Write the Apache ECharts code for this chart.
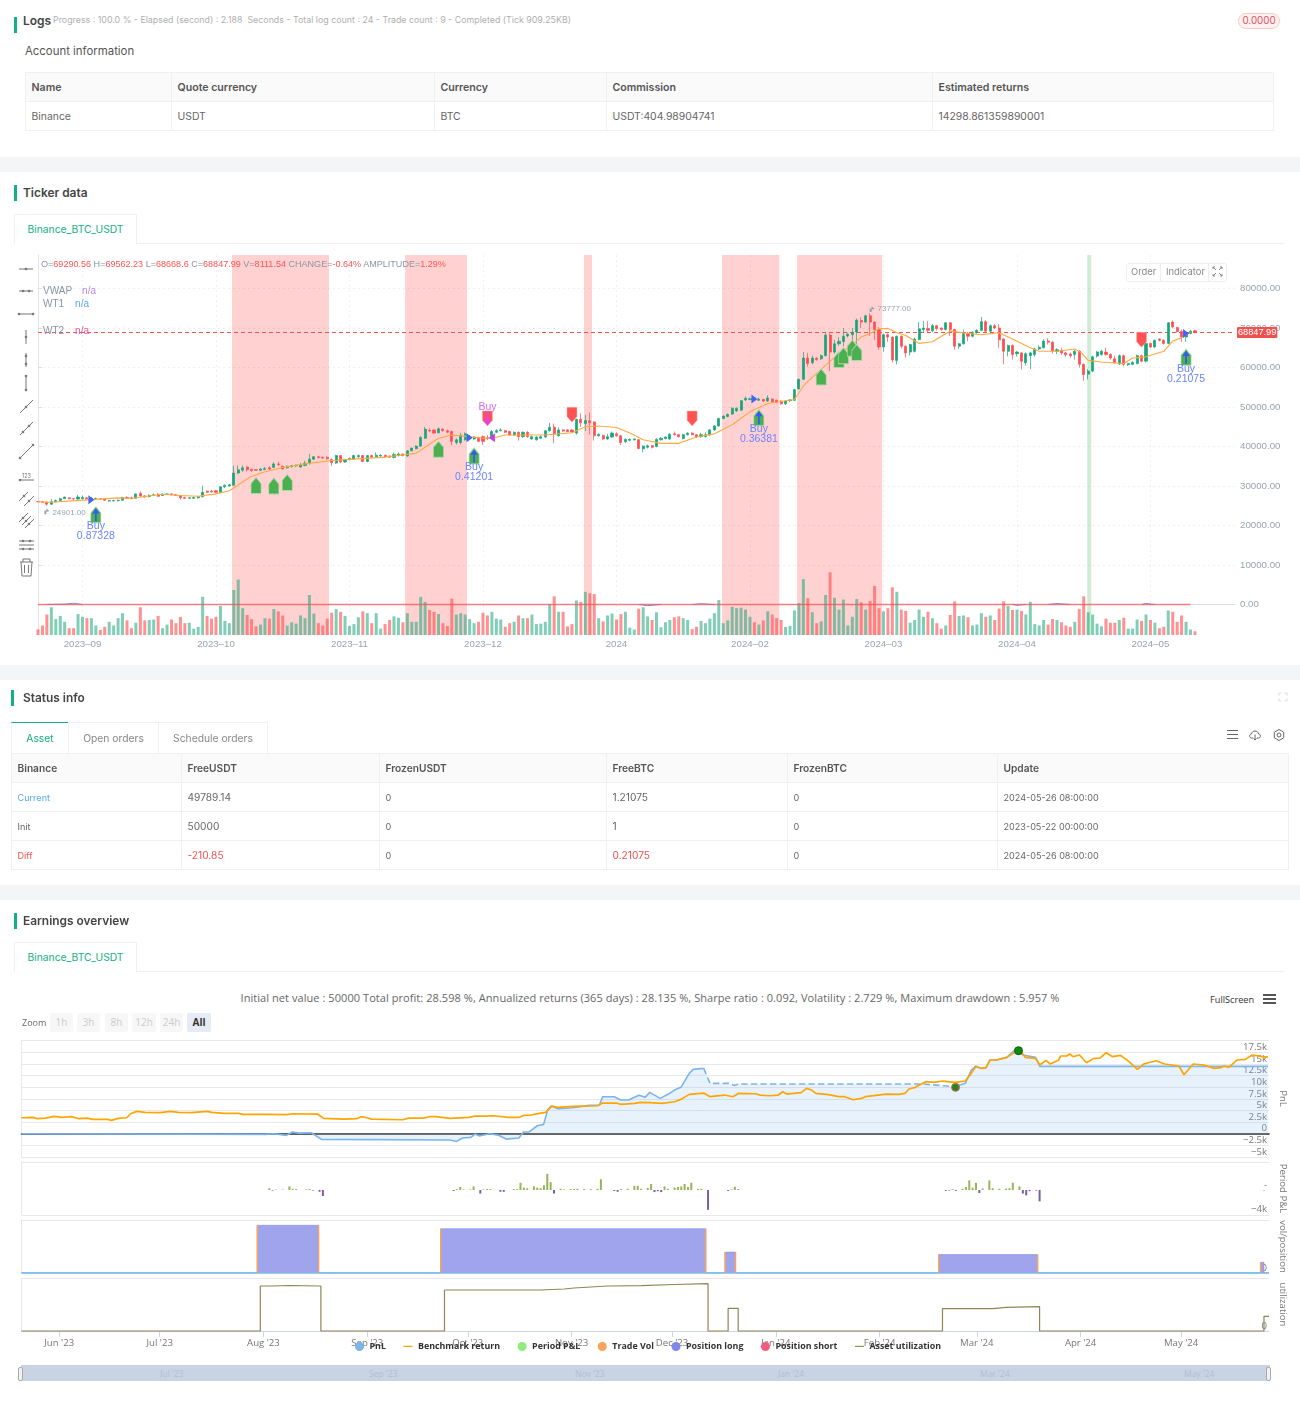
<!DOCTYPE html>
<html>
<head>
<meta charset="utf-8">
<title>Backtest report</title>
<script src="https://cdn.jsdelivr.net/npm/echarts@6/dist/echarts.min.js"></script>
<style>
html,body{margin:0;padding:0;background:#fff}
#page{position:relative;width:1300px;height:1403px;overflow:hidden;font-family:Inter,"Noto Sans",sans-serif;color:#555}
.t{position:absolute;white-space:nowrap;line-height:14px}
.strip{position:absolute;left:0;width:1300px;height:15px;background:#f4f5f7}
.mark{position:absolute;left:14px;width:3px;height:16px;background:#14b184}
.head{font-size:11.9px;font-weight:600;color:#444}
.tab{position:absolute;box-sizing:border-box;height:30px;border:1px solid #f0f0f0;border-bottom:0;background:#fff;font-size:10.3px;line-height:29px;text-align:center;color:#14b184}
.rule{position:absolute;height:1px;background:#f0f0f0}
table{position:absolute;border-collapse:collapse;table-layout:fixed;font-size:10.4px;color:#666}
td,th{border:1px solid #f0f0f0;padding:0 0 0 5.5px;height:28px;text-align:left;font-weight:400;overflow:hidden;white-space:nowrap}
th{background:#fafafa;font-weight:600;font-size:10.6px;color:#555}
table.status td{font-size:9.1px}
table.status td:nth-child(2),table.status td:nth-child(4){font-size:10.2px}
table.status th{font-size:10.2px}
#tickerChart{position:absolute;left:0;top:250px;width:1300px;height:405px}
#earningsChart{position:absolute;left:0;top:1030px;width:1300px;height:330px}
.zoomBtn{position:absolute;top:1013px;height:19px;background:#f7f7f7;color:#ccc;font:10px/19px "Open Sans",sans-serif;text-align:center;border-radius:2px}
#nav{position:absolute;left:21px;top:1365px;width:1249px;height:16px;background:#c8d3e4}
.navLabel{position:absolute;top:1367px;font:8.5px/14px "Open Sans",sans-serif;color:#b3bfd1;white-space:nowrap}
.grip{position:absolute;top:1367px;width:3px;height:12px;background:#f2f2f2;border:1px solid #aaa;border-radius:2px}
</style>
</head>
<body>
<div id="page">
  <div class="mark" style="top:17px"></div>
  <div class="t" style="left:23px;top:14px;font-size:12px;font-weight:600;color:#444">Logs</div>
  <div class="t" style="left:53px;top:13px;font-size:8.85px;color:#b0b0b0">Progress : 100.0 % - Elapsed (second) : 2.188&nbsp; Seconds - Total log count : 24 - Trade count : 9 - Completed (Tick 909.25KB)</div>
  <div class="t" style="left:1238px;top:13px;width:40px;height:14px;border:1px solid #ffc9c7;border-radius:8px;background:#fff1f0;color:#e2505f;font-size:9.8px;line-height:14px;text-align:center">0.0000</div>
  <div class="t" style="left:25px;top:44px;font-size:11.4px;color:#555">Account information</div>
  <table style="left:25px;top:72px;width:1248px">
    <colgroup><col style="width:146px"><col style="width:263px"><col style="width:172px"><col style="width:326px"><col style="width:341px"></colgroup>
    <tr><th>Name</th><th>Quote currency</th><th>Currency</th><th>Commission</th><th>Estimated returns</th></tr>
    <tr><td>Binance</td><td>USDT</td><td>BTC</td><td>USDT:404.98904741</td><td>14298.861359890001</td></tr>
  </table>

  <div class="strip" style="top:157px"></div>
  <div class="mark" style="top:185px"></div>
  <div class="t head" style="left:23px;top:186px">Ticker data</div>
  <div class="rule" style="left:14px;top:243px;width:1271px"></div>
  <div class="tab" style="left:14px;top:214px;width:123px">Binance_BTC_USDT</div>

  <div id="tickerChart"></div>

  <div class="t" style="left:41px;top:257px;font:9.05px/14px 'Liberation Sans',sans-serif;color:#8a94a3">O=<span style="color:#f55">69290.56</span> H=<span style="color:#f55">69562.23</span> L=<span style="color:#f55">68668.6</span> C=<span style="color:#f55">68847.99</span> V=<span style="color:#f55">8111.54</span> CHANGE=<span style="color:#f55">-0.64%</span> AMPLITUDE=<span style="color:#f55">1.29%</span></div>
  <div class="t" style="left:43px;top:284px;font:10px/14px 'Liberation Sans',sans-serif;color:#8a94a3">VWAP<span style="color:#b58bdd;margin-left:10px">n/a</span></div>
  <div class="t" style="left:43px;top:297px;font:10px/14px 'Liberation Sans',sans-serif;color:#8a94a3">WT1<span style="color:#5aa9ee;margin-left:11px">n/a</span></div>
  <div class="t" style="left:43px;top:324px;font:10px/14px 'Liberation Sans',sans-serif;color:#8a94a3">WT2<span style="color:#e9578f;margin-left:11px">n/a</span></div>

  <div style="position:absolute;left:1126px;top:263px;width:99px;height:17px;border:1px solid #eee;border-radius:3px;background:#fff"></div>
  <div style="position:absolute;left:1160px;top:263px;width:1px;height:18px;background:#eee"></div>
  <div style="position:absolute;left:1208px;top:263px;width:1px;height:18px;background:#eee"></div>
  <div class="t" style="left:1131px;top:265px;font-size:9.4px;color:#888">Order</div>
  <div class="t" style="left:1166px;top:265px;font-size:9.4px;color:#888">Indicator</div>
  <svg style="position:absolute;left:1212px;top:266px" width="11" height="11" stroke="#888" fill="none"><path d="M1 3V1H3M8 1H10V3M10 8V10H8M3 10H1V8M1 1L4 4M10 1L7 4M10 10L7 7M1 10L4 7"/></svg>

  <svg id="drawTools" style="position:absolute;left:14px;top:258px" width="26" height="322" stroke="#777" fill="#777" stroke-width="1"></svg>

  <div class="strip" style="top:665px"></div>
  <div class="mark" style="left:11px;top:690px"></div>
  <div class="t head" style="left:23px;top:691px">Status info</div>
  <div class="tab" style="left:11px;top:722px;width:58px;height:32px;line-height:31px;border-top:1px solid #14b184">Asset</div>
  <div class="tab" style="left:68px;top:722px;width:91px;height:32px;line-height:31px;color:#888;border-top:1px solid #f0f0f0">Open orders</div>
  <div class="tab" style="left:158px;top:722px;width:110px;height:32px;line-height:31px;color:#888;border-top:1px solid #f0f0f0">Schedule orders</div>
  <table class="status" style="left:11px;top:753px;width:1277px">
    <colgroup><col style="width:170px"><col style="width:198px"><col style="width:227px"><col style="width:181px"><col style="width:210px"><col style="width:291px"></colgroup>
    <tr><th>Binance</th><th>FreeUSDT</th><th>FrozenUSDT</th><th>FreeBTC</th><th>FrozenBTC</th><th>Update</th></tr>
    <tr><td style="color:#5aa9ee">Current</td><td>49789.14</td><td>0</td><td>1.21075</td><td>0</td><td>2024-05-26 08:00:00</td></tr>
    <tr><td>Init</td><td>50000</td><td>0</td><td>1</td><td>0</td><td>2023-05-22 00:00:00</td></tr>
    <tr><td style="color:#f0524f">Diff</td><td style="color:#f0524f">-210.85</td><td>0</td><td style="color:#f0524f">0.21075</td><td>0</td><td>2024-05-26 08:00:00</td></tr>
  </table>
  <svg style="position:absolute;left:1224px;top:727px" width="64" height="16" fill="none" stroke="#666">
    <path d="M3 3.5H14M3 7.5H14M3 11.5H14"/>
    <path d="M29 11H27.5C25 11 25 7 27.5 7C28 3 34 3 34.5 7C37 7 37 11 34.5 11H33M31 7.5V13M29.5 11.5L31 13L32.5 11.5"/>
    <circle cx="55" cy="8" r="2"/><path d="M55 2.5L59.7 5.2V10.8L55 13.5L50.3 10.8V5.2Z"/>
  </svg>
  <svg style="position:absolute;left:1278px;top:692px" width="10" height="10" fill="none" stroke="#ddd"><path d="M1 3.5V1H3.5M6.5 1H9V3.5M9 6.5V9H6.5M3.5 9H1V6.5"/></svg>

  <div class="strip" style="top:885px"></div>
  <div class="mark" style="top:913px"></div>
  <div class="t head" style="left:23px;top:914px">Earnings overview</div>
  <div class="rule" style="left:14px;top:971px;width:1271px"></div>
  <div class="tab" style="left:14px;top:942px;width:123px">Binance_BTC_USDT</div>

  <div class="t" style="left:0;width:1300px;top:991px;text-align:center;font:11px/14px 'Open Sans',sans-serif;letter-spacing:.06px;color:#666">Initial net value : 50000 Total profit: 28.598 %, Annualized returns (365 days) : 28.135 %, Sharpe ratio : 0.092, Volatility : 2.729 %, Maximum drawdown : 5.957 %</div>
  <div class="t" style="left:1210px;top:993px;font:9.2px/14px 'Open Sans',sans-serif;color:#333">FullScreen</div>
  <svg style="position:absolute;left:1263px;top:994px" width="13" height="11" fill="#555"><rect width="13" height="2"/><rect y="4" width="13" height="2"/><rect y="8" width="13" height="2"/></svg>
  <div class="t" style="left:22px;top:1016px;font:9px/14px 'Open Sans',sans-serif;color:#666">Zoom</div>
  <div class="zoomBtn" style="left:50px;width:23px">1h</div>
  <div class="zoomBtn" style="left:77px;width:23px">3h</div>
  <div class="zoomBtn" style="left:105px;width:23px">8h</div>
  <div class="zoomBtn" style="left:132px;width:24px">12h</div>
  <div class="zoomBtn" style="left:160px;width:23px">24h</div>
  <div class="zoomBtn" style="left:187px;width:24px;background:#e6ebf5;color:#333;font-weight:700">All</div>

  <div id="earningsChart"></div>

  <div id="nav"></div>
  <div class="navLabel" style="left:160px">Jul '23</div>
  <div class="navLabel" style="left:369px">Sep '23</div>
  <div class="navLabel" style="left:575px">Nov '23</div>
  <div class="navLabel" style="left:778px">Jan '24</div>
  <div class="navLabel" style="left:980px">Mar '24</div>
  <div class="navLabel" style="left:1184px">May '24</div>
  <div class="grip" style="left:18px"></div>
  <div class="grip" style="left:1266px"></div>
</div>

<script>
// ---- Ticker panel: daily BTC/USDT bars, prices in thousands of USDT ----
const opens = [
26.1,26.0,25.9,25.4,26.0,26.3,26.8,27.0,26.8,26.7,
26.8,27.0,26.7,26.8,26.8,26.7,26.2,26.2,26.3,26.4,
27.1,27.0,26.9,28.1,27.5,27.3,27.6,27.9,27.6,27.9,
28.0,27.8,27.6,27.1,26.9,26.9,27.0,27.3,28.7,28.7,
28.8,28.4,29.8,30.0,30.2,33.3,34.0,34.8,34.2,34.1,
34.0,34.2,34.6,34.7,35.6,35.0,34.6,34.9,35.1,34.8,
35.2,35.7,36.8,37.4,37.3,37.3,36.7,35.8,37.7,36.1,
36.7,36.8,37.4,37.7,36.2,37.7,37.4,37.6,37.8,37.6,
37.2,37.7,38.1,37.6,38.9,39.4,40.1,42.1,44.1,44.2,
43.5,44.4,44.0,43.8,41.0,41.0,41.7,42.1,41.9,42.2,
42.5,42.2,42.1,43.6,44.0,44.0,43.8,42.9,43.6,42.5,
43.6,41.9,41.7,42.1,42.4,44.0,44.9,42.7,44.2,44.2,
44.2,43.4,46.9,45.8,46.5,46.2,42.7,42.8,41.9,42.4,
43.2,42.7,41.2,41.6,41.7,41.7,39.4,39.8,40.2,40.0,
41.7,42.0,41.9,43.2,43.0,42.0,43.0,43.4,43.0,42.5,
42.5,42.9,44.2,45.2,47.1,47.6,48.2,49.0,49.2,51.8,
51.9,52.1,51.7,51.9,51.5,52.0,51.7,51.5,50.8,51.6,
51.7,54.6,57.0,62.4,61.2,62.4,62.2,63.0,68.2,63.9,
66.0,66.6,68.0,68.3,69.0,71.9,71.5,73.1,71.5,69.6,
65.2,68.3,67.7,61.8,67.9,65.4,63.9,64.1,67.1,69.6,
69.9,69.3,70.6,70.0,69.6,71.3,69.6,65.4,66.0,68.6,
67.9,68.8,69.4,71.6,69.2,70.6,70.0,67.2,64.1,65.6,
63.5,63.7,61.2,63.0,63.3,64.7,65.0,66.7,66.4,64.1,
64.4,63.7,63.4,63.3,64.1,60.8,58.3,59.1,62.9,63.3,
63.9,63.3,62.2,60.9,63.0,60.7,60.8,61.0,63.0,61.6,
66.1,65.2,67.2,66.9,66.1,71.5,70.1,69.1,67.7,68.6,
69.29056];
const closes = [
26.0,25.9,25.4,26.0,26.3,26.8,27.2,26.8,26.7,27.2,
27.1,26.8,26.9,26.9,26.7,26.4,26.3,26.3,26.4,27.1,
26.9,26.8,28.0,27.5,27.2,27.6,27.8,27.4,27.9,28.0,
27.8,27.6,27.0,26.9,27.0,27.1,27.3,28.4,28.4,28.5,
28.4,29.8,30.2,30.3,33.3,34.1,34.6,34.1,33.9,34.0,
34.3,34.4,34.3,35.6,35.4,34.3,35.0,35.1,35.3,35.3,
35.8,36.8,37.4,37.2,37.1,36.9,35.9,37.7,36.1,36.7,
37.0,37.7,37.7,36.2,37.7,37.3,37.8,37.8,37.4,37.3,
38.0,38.1,37.7,38.9,39.6,40.1,42.3,44.4,43.9,43.4,
44.5,44.0,43.6,41.3,41.7,42.9,43.2,42.5,42.4,41.3,
41.3,42.0,43.8,44.0,44.2,43.6,42.9,43.6,42.5,43.6,
42.5,42.5,42.4,42.5,44.0,44.9,43.2,44.2,43.9,43.8,
43.7,46.9,46.0,46.6,46.0,42.7,43.1,41.9,42.5,43.4,
42.7,41.0,41.8,41.8,41.9,39.5,40.1,40.2,39.8,41.8,
42.1,42.4,43.1,43.0,42.5,43.0,43.4,43.0,42.4,43.0,
43.0,44.2,45.2,47.1,47.7,48.1,49.7,49.7,51.6,52.2,
52.1,51.7,52.0,51.5,52.3,51.3,51.2,50.8,51.5,51.8,
54.4,57.0,62.4,61.0,62.4,62.0,63.0,68.2,63.9,66.0,
66.6,67.9,68.4,68.9,72.0,71.5,73.1,71.5,69.6,65.2,
68.3,67.7,61.9,67.9,65.4,63.7,65.8,67.2,69.8,70.0,
69.4,70.6,69.8,69.6,71.3,69.6,65.4,66.0,68.6,67.9,
68.8,69.4,71.6,69.2,70.6,70.0,67.0,64.1,65.6,63.3,
63.9,61.6,63.5,63.7,64.7,65.1,66.7,66.4,64.2,64.5,
63.7,63.2,63.0,64.1,60.8,58.2,59.1,62.7,63.9,64.1,
63.3,62.4,61.2,63.0,60.8,61.0,61.3,63.0,61.6,66.1,
65.2,66.9,66.9,66.1,71.3,70.3,69.1,67.7,68.6,69.2,
68.84799];
const lows = [
25.9,25.8,25.0,25.2,25.9,26.2,26.7,26.6,26.5,26.5,
26.6,26.6,26.5,26.6,26.5,26.2,26.0,26.1,26.1,26.3,
26.8,26.7,26.8,27.3,27.1,27.1,27.5,27.2,27.5,27.8,
27.6,27.5,26.6,26.7,26.7,26.7,26.8,27.1,28.2,28.3,
28.2,28.3,29.5,29.9,30.0,33.0,33.6,33.7,33.6,33.8,
33.8,34.0,34.0,34.6,35.1,34.1,34.4,34.7,34.8,34.6,
35.0,35.4,36.6,37.0,36.8,36.7,35.1,35.6,35.8,35.9,
36.5,36.6,37.1,36.0,36.0,37.1,37.2,37.4,37.2,37.1,
37.0,37.5,37.5,37.4,38.8,39.3,39.9,41.9,43.6,43.2,
43.3,43.8,43.4,40.3,40.5,40.5,41.5,41.9,41.7,41.1,
40.4,41.6,41.9,43.4,43.8,43.4,42.7,42.7,41.5,42.2,
42.2,41.7,41.5,41.9,42.2,43.8,40.8,42.5,43.7,43.6,
43.5,43.0,45.0,43.9,43.0,41.5,42.5,41.7,41.7,42.2,
42.5,40.4,40.9,41.3,41.5,39.3,38.5,39.5,39.5,39.8,
41.5,41.8,41.7,42.8,42.3,41.8,42.8,42.8,42.2,42.2,
42.3,42.7,44.0,45.0,46.9,47.4,48.0,48.8,49.0,51.5,
51.7,51.6,51.5,51.3,51.3,51.1,51.0,50.6,50.5,51.3,
51.5,54.4,56.9,60.2,60.8,61.7,61.9,62.8,59.1,63.5,
65.5,65.4,67.6,66.5,66.0,70.0,71.2,68.0,67.0,64.5,
64.0,66.5,61.3,60.8,64.8,62.5,63.0,63.8,66.9,69.0,
68.9,68.9,69.4,69.3,69.4,68.0,64.5,64.7,65.8,66.6,
67.6,68.6,69.2,69.0,68.4,69.7,65.0,60.8,62.8,62.0,
62.8,59.5,60.5,59.6,62.8,64.4,64.8,65.8,63.5,63.4,
63.2,62.7,62.5,62.0,60.0,56.6,57.0,58.8,62.5,63.0,
63.0,62.0,61.0,60.6,60.3,60.4,60.6,60.8,61.3,61.3,
64.9,65.0,66.6,65.8,65.9,69.9,68.8,66.5,66.5,68.4,
68.6686];
const highs = [
26.2,26.1,26.0,26.7,26.6,27.0,27.3,27.1,26.9,27.7,
27.6,27.2,27.2,27.0,26.9,26.8,26.4,26.5,26.6,27.2,
27.4,27.3,28.1,28.6,27.7,27.9,28.1,28.2,28.2,28.1,
28.2,27.9,27.7,27.3,27.2,27.3,27.5,30.1,28.9,29.0,
29.0,30.0,30.4,30.5,35.1,35.2,35.2,35.0,34.4,34.3,
34.5,34.8,35.0,36.0,36.2,35.2,35.2,35.3,35.4,35.8,
36.4,38.1,37.6,37.6,37.4,37.5,37.0,37.9,37.8,36.9,
37.2,37.9,38.0,37.8,37.8,37.9,38.5,38.0,37.9,37.7,
38.5,38.5,38.2,39.0,39.7,40.3,42.6,45.0,44.6,44.3,
44.8,44.6,44.3,44.0,42.0,43.4,43.6,42.9,42.6,42.5,
42.8,42.9,44.2,44.4,44.6,44.2,44.0,43.8,43.8,43.8,
43.9,42.7,42.6,42.8,44.2,46.0,45.8,44.9,44.4,44.4,
44.4,47.0,48.4,48.0,48.6,46.4,43.3,43.0,43.2,43.8,
43.6,42.9,42.1,42.0,42.0,41.9,40.3,40.5,40.4,42.1,
42.4,42.6,43.4,43.8,43.2,43.2,43.6,43.6,43.1,43.5,
43.6,44.4,45.4,47.3,47.9,48.4,49.9,49.9,51.8,52.7,
52.4,52.3,52.4,52.1,53.0,52.2,51.9,51.7,51.7,52.0,
54.6,57.2,63.9,63.7,63.0,62.6,63.3,68.7,68.6,67.0,
67.7,70.0,68.8,70.0,72.4,72.7,73.4,73.78,71.7,70.2,
68.6,68.6,67.9,68.1,68.1,65.6,66.0,67.6,71.5,71.8,
71.8,71.0,70.8,70.2,71.5,71.5,69.8,66.2,69.6,69.0,
69.2,69.7,72.8,72.0,70.9,71.0,71.0,67.4,65.8,65.8,
64.2,63.9,63.8,64.0,65.0,65.6,67.2,67.4,66.7,64.9,
65.0,64.0,63.8,64.4,64.4,61.0,59.6,63.0,64.2,64.5,
65.0,63.6,63.0,63.3,63.3,61.2,61.6,63.3,63.3,66.4,
66.3,67.0,67.4,67.1,71.5,71.9,70.3,69.6,68.9,69.5,
69.56223];
// Traded volume per bar, thousands of BTC
const volumes = [
12.5,21,45,61,35,42,29,15,15,46,
40,37,37,21,11,18,29,21,37,48,
32,15,27,61,32,33,34,42,15,23,
34,26,40,26,27,14,18,84,42,36,
40,64,31,26,99,122,59,44,35,19,
23,37,36,57,52,43,21,28,25,43,
37,88,47,26,21,36,49,57,51,42,
20,24,39,52,48,26,48,14,24,33,
41,38,28,48,29,29,84,73,55,51,
46,26,20,80,45,48,45,35,26,29,
49,43,51,36,34,18,26,29,43,37,
37,45,24,25,29,68,85,51,51,19,
24,76,73,95,92,90,37,30,43,47,
34,46,51,16,12,58,61,41,33,50,
17,28,33,39,41,37,33,13,18,31,
26,36,48,77,26,32,62,59,60,56,
40,28,23,32,52,45,37,33,18,20,
54,70,123,81,50,26,30,88,138,82,
56,78,21,40,79,72,56,75,108,59,
52,59,105,95,56,53,27,33,56,40,
51,37,26,14,21,44,74,42,43,39,
21,23,48,40,43,33,58,74,64,55,
56,53,45,73,24,21,33,23,35,33,
28,21,18,29,57,85,50,45,25,19,
36,27,27,33,38,14,14,34,31,45,
33,27,15,18,54,51,29,43,29,12,
8.11154];
// Moving average nodes: bar index and price
const avgBars = [0,3,11,18,21,28,32,36,40,43,47.6,50.6,55,60,65.6,71,78,85,87,90,93,97,100,102,105,111,114,120,123,126,130,133,136,140,144,148,152,156,160,164,168,170,172,173,175,178,180,183,185,187,189,191,193,195,198,201,203,205,209,212,216,219,223,225,229,233,234.5,236,239,244,246,249,253,255,257,259];
const avgPrices = [26.0,25.9,26.5,27.0,26.9,27.9,27.6,27.4,28.0,28.8,32.2,33.5,34.7,35.6,36.4,36.8,37.3,38.3,39.8,42.1,42.9,42.5,42.1,42.1,42.9,42.9,42.9,43.5,45.0,45.2,44.8,43.4,41.7,40.8,40.8,42.4,43.2,45.5,48.8,50.9,51.6,51.9,55.3,56.5,58.5,61.6,63.3,65.8,67.7,68.6,69.8,69.9,68.8,68.1,66.1,66.5,67.9,69.2,68.6,68.3,68.8,67.2,65.0,64.1,64.1,64.7,63.7,61.8,61.4,61.0,62.4,62.7,64.1,66.7,67.5,68.9];
// Oscillator traces that stay close to zero; null marks a gap in the blue trace
const wt1Bars = [2,6,8,10,11,135,137,140,141,147,149,152,153,219,220,222,223,227,229,232,233,248,249,251];
const wt1Values = [0,0.1,0.3,0,null,0,-0.3,0,null,0,0.2,0,null,0,-0.2,0,null,0,0.25,0,null,0,0.25,0];
const wt2Bars = [0,259];
const wt2Values = [0,0];
// Shaded signal ranges, in bar positions
const bearRanges = [[43.6,65.4],[82.5,96.4],[122.7,124.5],[153.7,166.6],[170.6,189.7]];
const bullRanges = [[235.8,236.7]];
// Order and signal markers: [bar, price]
const longPins = [[49,30.1],[53,30.0],[56,30.9],[90,39.3],[176,57.6],[180,62],[181,63],[183,64.9],[184,63.8]];
const buyPins = [[13,22.7],[98,37.6],[162,47.3],[258,62.6]];
const buySizes = [0.87328,0.41201,0.36381,0.21075];
const shortPins = [[101,47.1],[120,48.05],[147,47.1],[248,67]];
const closeBuyPin = [[101,47.1]];
const rightFlags = [[12,26.5],[97,42.2],[161,52],[258,68.6]];
const leftFlags = [[102,42.2]];
const lowMark = [[2,24.901]];
const highMark = [[187,73.777]];
const lastPrice = 68.84799;
const priceTicks = [0,10,20,30,40,50,60,70,80];
const monthLabels = ['2023\u201309','2023\u201310','2023\u201311','2023\u201312','2024','2024\u201302','2024\u201303','2024\u201304','2024\u201305'];

// ---- Earnings panel: x values are days from the start of the run, y in thousands of USDT ----
const benchDays = [0,3.5,4.7,7.2,9.7,12.1,15.2,17.1,19.6,21.4,25.8,26.8,28.9,31.4,32.6,34.4,36.9,41.3,44.4,46.8,50.6,55.5,56.8,60.5,64.8,66,72.9,79.1,80.9,88.4,90.2,96.4,100.1,101.4,103.2,104.5,113.8,115.6,120,121.8,123.7,128,133.6,135.4,138.5,141,145.4,148.5,149.9,152.2,154.6,156.5,158.4,160.2,164.6,167,172,173.5,177.6,178.9,183.1,185,187.6,191.3,195,196.9,199.4,203.7,205.6,209.9,212.4,214.2,219.2,220.4,223.5,226,227.3,228.5,232.8,234.4,235.9,237.2,240.9,244,245.8,248.3,250.8,252,258.2,262,263.8,265,266.9,268.1,270,272.5,275,278.7,281.8,283.6,284.9,286.7,288,289.2,291.1,294.2,296.6,298.5,299.7,302.8,304.1,305.9,307.2,309.7,310.3,312.1,313,314,315.9,318,320.2,322.1,323.9,325.8,328.2,330.7,333.2,335.1,338.8,341.3,345.6,347.1,349.9,353,356.1,358,359.2,360.5,362.9,365.4,367.5,370.4,372.2];
const benchValues = [3.44,3.51,3.23,3.37,3.73,3.51,3.66,3.23,3.37,3.08,3.08,2.87,3.30,3.44,4.30,4.80,4.59,4.52,4.80,4.59,4.52,4.80,4.59,4.37,4.37,4.16,4.16,4.09,4.30,4.23,3.30,3.15,3.23,3.66,3.44,3.15,3.01,3.37,3.37,3.66,3.66,3.30,3.51,3.80,3.80,3.87,3.51,3.51,3.94,4.02,4.37,4.59,5.95,5.66,5.88,5.95,6.02,6.60,6.60,6.31,6.52,6.74,6.67,6.52,6.88,7.39,8.46,8.75,7.96,8.32,7.96,8.68,8.60,8.32,8.17,8.32,9.03,8.53,8.82,9.75,9.39,8.68,8.39,7.96,7.96,7.31,7.60,7.96,8.53,8.46,8.68,9.61,9.97,10.47,11.19,11.04,11.33,11.04,11.33,12.98,14.41,14.05,14.20,15.85,15.85,16.42,17.49,17.64,16.42,16.20,14.77,15.77,14.99,15.85,16.71,16.71,17.14,16.56,16.92,15.27,16.20,16.28,17.42,16.56,16.85,15.49,13.84,14.99,15.70,14.99,14.56,12.69,14.99,14.77,14.05,14.20,14.56,14.27,15.85,15.99,16.92,16.56,16.49];
const pnlDays = [0,72.9,75.3,79.1,80.9,82.8,86.5,89.6,128,129.9,131.7,134.2,135.4,136.7,139.8,142.3,144.7,148.5,149.9,151.5,154,155.9,157.1,158.1,160.2,164.6,169.5,172.6,173.5,177,178.9,181.3,182.5,184.4,186.2,187.6,190.7,193.2,195,196.9,199.4,200.6,203.7];
const pnlValues = [0,-0.14,0,-0.36,0.36,0.14,0.22,-1.22,-1.36,-1.65,-0.93,-0.79,-0.07,-0.50,0,-0.29,-1.15,-0.93,0.36,0.36,1.72,2.01,5.09,5.95,5.38,5.59,6.09,6.17,7.96,7.96,7.24,7.24,7.67,8.25,7.82,8.89,7.60,8.53,9.39,9.97,12.98,13.84,14.05];
// Stretch with no open position after the December sell, drawn dashed
const idleDays = [203.7,205.6,211.1,212.8,214.2,269.4,278.7];
const idleValues = [14.05,10.83,10.83,10.40,10.68,10.68,10.11];
const lateDays = [278.7,281.8,283.6,284.9,286.7,288,289.2,291.1,294.2,296.6,299.1,302.8,304.1,372.2];
const lateValues = [10.11,10.83,13.69,14.56,14.05,14.20,15.85,15.85,16.42,18.0,16.92,16.42,14.48,14.48];
const pnlMarkers = [[278.9,9.97],[297.7,17.85]];
const periodDays = [74,75,76,78,80,81,82,85,86,87,89,90,129,130,131,132,134,135,137,138,139,140,143,144,147,148,149,150,151,153,154,155,156,157,158,159,161,162,164,165,166,168,170,172,173,177,178,179,181,183,184,185,187,188,189,190,191,192,193,195,196,197,198,199,200,202,203,205,211,212,213,214,276,277,278,279,281,282,283,284,285,286,287,289,290,292,294,295,296,298,299,300,301,303,304,371];
const periodValues = [0.3,-0.1,0.08,0.08,0.6,0.2,0.15,0.1,0.15,-0.1,-0.3,-1,-0.15,0.15,0.5,0.1,0.1,0.6,-0.6,0.1,0.15,0.15,-0.3,-0.3,0.15,0.15,1.2,0.4,0.3,0.6,0.4,0.3,0.8,2.7,1.3,-0.6,0.2,0.1,0.15,0.15,0.2,0.15,0.15,0.2,1.8,-0.15,-0.3,0.15,0.2,0.7,0.7,0.2,0.35,1.0,-0.35,-0.2,-0.35,0.6,0.2,0.4,0.5,0.6,1.0,0.5,1.2,0.2,0.2,-3.3,-0.15,0.1,0.55,0.15,-0.15,-0.1,0.15,-0.15,0.2,0.5,1.6,0.4,1.2,-0.5,0.25,1.6,0.3,0.2,0.25,0.3,1.2,0.6,-0.6,-0.9,-0.2,-0.1,-1.9,-0.05];
const positionDays = [0,70.4,70.4,88.7,88.7,125.2,125.2,204.3,204.3,210.1,210.1,213.2,213.2,273.9,273.9,303.4,303.4,370,370,371,371,372.5];
const positionSizes = [0,0,0.94,0.94,0,0,0.87328,0.87328,0,0,0.41201,0.41201,0,0,0.36381,0.36381,0,0,0.21075,0.21075,0,0];
const tradeDays = [70.4,88.7,125.2,204.3,210.1,213.2,273.9,303.4,370];
const tradeSizes = [0.94,0.94,0.87328,0.87328,0.41201,0.41201,0.36381,0.36381,0.21075];
const utilDays = [0,71.3,71.3,75,80,89.4,89.4,126.3,126.3,137,155,162,165,175,185,195,205,205,211,211,214,214,275,275,290,294,304,304,371,371,372.5];
const utilLevels = [0,0,45,45,45.5,45,0,0,41,41,41,42,43,45,45.3,46.5,47.3,0,0,22.7,22.7,0,0,22.3,22.3,23.6,24.3,0,0,14.7,14.7];
const pnlTicks = [-5,-2.5,0,2.5,5,7.5,10,12.5,15,17.5];
const monthTicks = [11.25,41.25,72.25,103.25,133.25,164.25,194.25,225.25,256.25,285.25,316.25,346.25];
const monthNames = ["Jun '23","Jul '23","Aug '23","Sep '23","Oct '23","Nov '23","Dec '23","Jan '24","Feb '24","Mar '24","Apr '24","May '24"];

const pair = (xs, ys) => xs.map((x, i) => [x, ys[i]]);

// ---- Ticker chart ----
const UP = '#17a67a', DOWN = '#ff4d4f';
const axisText = {color:'#9aa3ad', fontSize:9.7, fontFamily:'Liberation Sans'};
const gridDash = {color:'#f0f0f0', type:[2,3]};
const pinUp = 'path://M50 0L100 38V100H0V38Z';
const pinDown = 'path://M0 0H100V62L50 100L0 62Z';
const arrowUp = 'path://M50 0L100 40H62V100H38V40H0Z';
const arrowDown = 'path://M38 0H62V60H100L50 100L0 60H38Z';
const flagRight = 'path://M0 0L100 50L0 100Z';
const flagLeft = 'path://M100 0L0 50L100 100Z';
const barCount = 270;

const ticker = echarts.init(document.getElementById('tickerChart'), null, {renderer:'canvas'});
ticker.setOption({
  animation:false,
  grid:{left:38, right:65, top:5, height:380},
  xAxis:[
    {type:'category', boundaryGap:false, data:Array.from({length:barCount},(_, i)=>String(i)),
     axisLine:{lineStyle:{color:'#ddd'}}, axisTick:{show:false},
     axisLabel:{...axisText, margin:4, interval:i=>i%30===10, formatter:(v,i)=>monthLabels[(i-10)/30]||''},
     splitLine:{show:true, interval:i=>i%30===10, lineStyle:gridDash}},
    {type:'value', min:0, max:barCount-1, show:false}
  ],
  yAxis:[
    {type:'value', position:'right', min:-7.72, max:88.48,
     axisLine:{show:true, lineStyle:{color:'#ddd'}},
     axisTick:{show:true, length:4, lineStyle:{color:'#ddd'}, customValues:priceTicks},
     axisLabel:{...axisText, margin:5, customValues:priceTicks, formatter:v=>(v*1000).toFixed(2)},
     splitLine:{show:true, lineStyle:gridDash}},
    {type:'value', position:'left', min:0, max:836, axisLabel:{show:false}, axisTick:{show:false},
     axisLine:{show:true, lineStyle:{color:'#e4e4e4'}}, splitLine:{show:false}}
  ],
  series:[
    {name:'Volume', type:'bar', xAxisIndex:0, yAxisIndex:1, barWidth:3, z:2,
     data:volumes.map((v,i)=>({value:v, itemStyle:{color: closes[i]>=opens[i] ? 'rgba(23,166,122,.55)' : 'rgba(255,77,79,.62)'}}))},
    {name:'Price', type:'candlestick', xAxisIndex:0, yAxisIndex:0, barWidth:2.6, z:3,
     data:opens.map((o,i)=>[o, closes[i], lows[i], highs[i]]),
     itemStyle:{color:UP, color0:DOWN, borderColor:UP, borderColor0:DOWN, borderWidth:.7},
     markLine:{silent:true, symbol:'none', z:3, lineStyle:{color:'#ef5350', type:[4,3], width:1},
       label:{position:'end', distance:2, formatter:()=>(lastPrice*1000).toFixed(2), color:'#fff', backgroundColor:'#ef5350',
              padding:[1,1], fontSize:9.2, fontFamily:'Liberation Sans', borderRadius:1},
       data:[{yAxis:lastPrice}]}},
    {name:'WT1', type:'line', xAxisIndex:0, yAxisIndex:0, z:3, showSymbol:false, connectNulls:false, data:pair(wt1Bars, wt1Values),
     lineStyle:{color:'#7a8ce0', width:1}},
    {name:'WT2', type:'line', xAxisIndex:0, yAxisIndex:0, z:4, showSymbol:false, data:pair(wt2Bars, wt2Values),
     lineStyle:{color:'#ff5252', width:1.4, opacity:.7}},
    {name:'Signal ranges', type:'line', xAxisIndex:1, yAxisIndex:0, z:5, showSymbol:false, data:[[0,0]], lineStyle:{width:0},
     markArea:{silent:true, data:[
       ...bearRanges.map(r=>[{xAxis:r[0], itemStyle:{color:'rgba(255,0,0,.18)'}},{xAxis:r[1]}]),
       ...bullRanges.map(r=>[{xAxis:r[0], itemStyle:{color:'rgba(76,175,80,.25)'}},{xAxis:r[1]}])]}},
    {name:'VWAP', type:'line', xAxisIndex:1, yAxisIndex:0, z:6, showSymbol:false, data:pair(avgBars, avgPrices),
     lineStyle:{color:'#ffa940', width:1.1}},
    {name:'Long signal', type:'scatter', z:7, symbol:pinUp, symbolSize:[10,16], data:longPins,
     itemStyle:{color:'#4caf50', borderColor:'#a9d8ab', borderWidth:.8, opacity:1}},
    {name:'Buy order', type:'scatter', z:7, symbol:pinUp, symbolSize:[10,16], data:buyPins,
     itemStyle:{color:'#4caf50', borderColor:'#a9d8ab', borderWidth:.8, opacity:1},
     label:{show:true, position:'bottom', distance:-2, color:'#6a84ff', fontSize:10.5, lineHeight:10, fontFamily:'Liberation Sans',
            formatter:p=>'Buy\n'+buySizes[p.dataIndex].toFixed(5)}},
    {name:'Buy arrow', type:'scatter', z:8, symbol:arrowUp, symbolSize:[7,13], data:buyPins, itemStyle:{color:'#3358ff', opacity:1}},
    {name:'Short signal', type:'scatter', z:7, symbol:pinDown, symbolSize:[10,15], data:shortPins,
     itemStyle:{color:'#ff5252', borderColor:'#ffb3b3', borderWidth:.5, opacity:1}},
    {name:'Closing buy', type:'scatter', z:8, symbol:arrowDown, symbolSize:[8,13], data:closeBuyPin, itemStyle:{color:'#e040fb', opacity:1},
     label:{show:true, position:'top', distance:-1, color:'#d96bf0', fontSize:10.5, fontFamily:'Liberation Sans', formatter:'Buy'}},
    {name:'Flag right', type:'scatter', z:8, symbol:flagRight, symbolSize:[6,9], data:rightFlags, itemStyle:{color:'#3e63ff', opacity:1}},
    {name:'Flag left', type:'scatter', z:8, symbol:flagLeft, symbolSize:[6,9], data:leftFlags, itemStyle:{color:'#c93df0', opacity:1}},
    {name:'Low', type:'scatter', z:7, symbol:'path://M0 100V40H40V0L100 50L40 60V100Z', symbolSize:[5,6], symbolOffset:[0,5], data:lowMark,
     itemStyle:{color:'#9aa3ad', opacity:1},
     label:{show:true, position:'right', distance:3, offset:[0,2], ...axisText, fontSize:8, formatter:p=>(p.value[1]*1000).toFixed(2)}},
    {name:'High', type:'scatter', z:7, symbol:'path://M0 100V40H40V0L100 50L40 60V100Z', symbolSize:[5,6], symbolOffset:[2,-4], data:highMark,
     itemStyle:{color:'#9aa3ad', opacity:1},
     label:{show:true, position:'right', distance:3, ...axisText, fontSize:8, formatter:p=>(p.value[1]*1000).toFixed(2)}}
  ]
});

// ---- Earnings chart: four stacked panes sharing the day axis ----
const paneTop = [10,132,190,248], paneHeight = [117,53,53,53];
const lastDay = 372.5;
const paneLine = '#e8e8e8';
const hcLabel = {color:'#777', fontSize:9.6, fontFamily:'Open Sans', inside:true, align:'right', verticalAlign:'bottom', margin:2};
const hcName = {color:'#777', fontSize:9.6, fontFamily:'Open Sans'};
const xBase = {type:'value', min:0, max:lastDay, axisTick:{show:false}, axisLabel:{show:false}, splitLine:{show:false}, axisLine:{show:false}};
const yBase = {type:'value', position:'right', nameLocation:'middle', nameRotate:-90, nameGap:5, nameTextStyle:hcName,
  axisLine:{show:true, lineStyle:{color:'#e3e7f3'}}, axisTick:{show:false}};
const dashIcon = 'path://M0 0L0 0M0 42H100V56H0ZM100 100L100 100';

const earnings = echarts.init(document.getElementById('earningsChart'), null, {renderer:'canvas'});
earnings.setOption({
  animation:false,
  grid:paneTop.map((t,i)=>({left:21.5, right:31, top:t, height:paneHeight[i]})),
  legend:{left:350, top:307, itemGap:17.5, itemWidth:10, itemHeight:9,
    textStyle:{fontFamily:'Open Sans', fontWeight:700, fontSize:8.9, color:'#333'},
    data:[
      {name:'PnL', icon:'circle', itemStyle:{color:'#7cb5ec'}},
      {name:'Benchmark return', icon:dashIcon, itemStyle:{color:'#ffa500'}},
      {name:'Period P&L', icon:'circle', itemStyle:{color:'#90ed7d'}},
      {name:'Trade Vol', icon:'circle', itemStyle:{color:'#f7a35c'}},
      {name:'Position long', icon:'circle', itemStyle:{color:'#8085e9'}},
      {name:'Position short', icon:'circle', itemStyle:{color:'#f15c80'}},
      {name:'Asset utilization', icon:dashIcon, itemStyle:{color:'#9a9060'}}
    ]},
  xAxis:[
    {...xBase, gridIndex:0, axisLine:{show:true, onZero:true, lineStyle:{color:'#333', width:1.6}}},
    {...xBase, gridIndex:1},
    {...xBase, gridIndex:2},
    {...xBase, gridIndex:3, axisLine:{show:true, onZero:false, lineStyle:{color:'#ccd6eb'}},
      axisTick:{show:true, length:6, lineStyle:{color:'#ccd6eb'}, customValues:monthTicks},
      axisLabel:{show:true, color:'#777', fontSize:9.6, fontFamily:'Open Sans', margin:7, customValues:monthTicks,
        formatter:v=>monthNames[monthTicks.indexOf(v)]||''}}
  ],
  yAxis:[
    {...yBase, gridIndex:0, name:'PnL', min:-5, max:20.15,
     axisTick:{show:false, customValues:[...pnlTicks,20.15]}, axisLabel:{...hcLabel, customValues:pnlTicks, formatter:v=>v===0?'0':String(v).replace('-','\u2212')+'k'},
     splitLine:{show:true, lineStyle:{color:paneLine, width:1}}},
    {...yBase, gridIndex:1, name:'Period P&L', min:-4.17, max:4.67,
     axisTick:{show:false, customValues:[-4.17,4.67]}, axisLabel:{...hcLabel, customValues:[-4,0], formatter:v=>v===0?'-':'\u22124k'},
     splitLine:{show:true, lineStyle:{color:paneLine}}},
    {...yBase, gridIndex:2, name:'vol/position', min:0, max:1.045,
     axisTick:{show:false, customValues:[1.045]}, axisLabel:{...hcLabel, customValues:[0], formatter:'0'},
     splitLine:{show:true, lineStyle:{color:paneLine}}},
    {...yBase, gridIndex:3, name:'utilization', min:0, max:53,
     axisTick:{show:false, customValues:[53]}, axisLabel:{...hcLabel, customValues:[0], formatter:'0'},
     splitLine:{show:true, lineStyle:{color:paneLine}}}
  ],
  series:[
    {name:'PnL', type:'line', xAxisIndex:0, yAxisIndex:0, showSymbol:false, z:3, data:pair(pnlDays,pnlValues),
     lineStyle:{color:'#7cb5ec', width:1.6}, itemStyle:{color:'#7cb5ec'}, areaStyle:{color:'rgba(124,181,236,.26)'}},
    {name:'PnL', type:'line', xAxisIndex:0, yAxisIndex:0, showSymbol:false, z:3, data:pair(idleDays,idleValues),
     lineStyle:{color:'#7cb5ec', width:1.6, type:'dashed'}, itemStyle:{color:'#7cb5ec'}, areaStyle:{color:'rgba(124,181,236,.26)'}},
    {name:'PnL', type:'line', xAxisIndex:0, yAxisIndex:0, showSymbol:false, z:3, data:pair(lateDays,lateValues),
     lineStyle:{color:'#7cb5ec', width:1.6}, itemStyle:{color:'#7cb5ec'}, areaStyle:{color:'rgba(124,181,236,.26)'}},
    {name:'Benchmark return', type:'line', xAxisIndex:0, yAxisIndex:0, showSymbol:false, z:4, data:pair(benchDays,benchValues),
     lineStyle:{color:'#ffa500', width:1.7}, itemStyle:{color:'#ffa500'}},
    {name:'Trades', type:'scatter', xAxisIndex:0, yAxisIndex:0, z:5, symbolSize:8,
     data:[{value:pnlMarkers[0], itemStyle:{color:'#1e8a1e', borderColor:'#f06060', borderWidth:1, opacity:1}},
           {value:pnlMarkers[1], itemStyle:{color:'#108a10', borderColor:'#0b5a0b', borderWidth:1, opacity:1}}]},
    {name:'Period P&L', type:'bar', xAxisIndex:1, yAxisIndex:1, barWidth:2,
     data:pair(periodDays,periodValues).map(d=>({value:d, itemStyle:{color:d[1]>=0?'#96b558':'#7c5da6'}}))},
    {name:'Flat line', type:'line', xAxisIndex:2, yAxisIndex:2, z:2, showSymbol:false, clip:false, data:[[0,0],[lastDay,0]],
     lineStyle:{color:'#63c5e9', width:1.6}},
    {name:'Position long', type:'line', xAxisIndex:2, yAxisIndex:2, z:3, showSymbol:false, data:pair(positionDays,positionSizes),
     lineStyle:{color:'rgba(128,133,233,.55)', width:1}, itemStyle:{color:'#8085e9'}, areaStyle:{color:'#a0a4ec', opacity:1}},
    {name:'Position short', type:'line', xAxisIndex:2, yAxisIndex:2, showSymbol:false, data:[], itemStyle:{color:'#f15c80'}},
    {name:'Trade Vol', type:'bar', xAxisIndex:2, yAxisIndex:2, z:4, barWidth:1.5, data:pair(tradeDays,tradeSizes), itemStyle:{color:'#f7a35c'}},
    {name:'Asset utilization', type:'line', xAxisIndex:3, yAxisIndex:3, showSymbol:false, clip:false, data:pair(utilDays,utilLevels),
     lineStyle:{color:'#8f8657', width:1.2}, itemStyle:{color:'#9a9060'}}
  ]
});

// ---- Left-hand drawing tool icons ----
const tools = document.getElementById('drawTools');
const seg = (x1,y1,x2,y2,dots) => `<path d="M${x1} ${y1}L${x2} ${y2}" fill="none"/>`+dots.map(d=>`<circle cx="${d[0]}" cy="${d[1]}" r="1.3" stroke="none"/>`).join('');
tools.innerHTML = [
  seg(5,11,19,11,[[12,11]]),
  seg(5,33,19,33,[[9,33],[15,33]]),
  seg(5,56,19,56,[[5,56],[19,56]]),
  seg(12,72,12,86,[[12,79]]),
  seg(12,95,12,109,[[12,98],[12,106]]),
  seg(12,118,12,132,[[12,118],[12,132]]),
  seg(6,155,19,142,[[12,149]]),
  seg(6,177,19,164,[[9,174],[15,168]]),
  seg(6,200,19,187,[[6,200],[19,187]]),
  seg(6,222,20,222,[[6,222]]) + '<text x="8" y="220" font-size="5.5" stroke="none" fill="#777">123</text>',
  seg(5,243,14,234,[[10,238]]) + seg(10,248,20,238,[[15,243]]),
  seg(5,264,14,255,[[9,260]]) + seg(8,267,17,258,[[12,263]]) + seg(11,270,20,261,[[15,266]]),
  seg(5,283,20,283,[[9,283],[16,283]]) + seg(5,287,20,287,[]) + seg(5,291,20,291,[[9,291],[16,291]]),
  '<path d="M6 304H19M9 304V301H16V304M7 304L8 318H17L18 304M10.5 307V315M14.5 307V315" fill="none"/>'
].join('');
</script>
</body>
</html>
